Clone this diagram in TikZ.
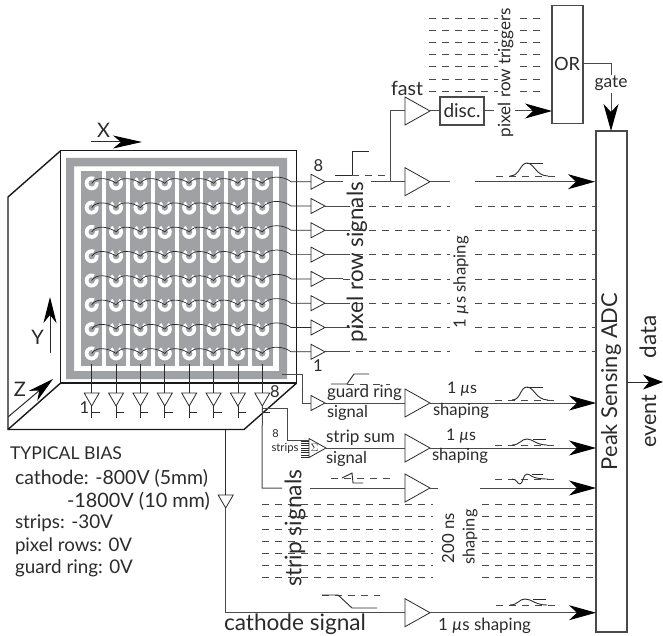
\documentclass[tikz,border=0pt]{standalone}
\usepackage{fontspec}
\setmainfont{Lato}
\usetikzlibrary{arrows.meta,shapes.geometric,calc}
\definecolor{plate}{HTML}{A0A1A4}
\definecolor{ink}{HTML}{2B2B2B}
\definecolor{wire}{HTML}{4A4A4A}
% set text in the size that makes it #1 bp wide
\newcommand\fitw[2]{%
  \setbox0=\hbox{\fontsize{10bp}{12bp}\selectfont #2}%
  \pgfmathsetmacro\fitsize{10*#1*1.00375/\the\wd0}%
  \fontsize{\fitsize bp}{\fitsize bp}\selectfont #2}
\tikzset{
 x=1bp,y=-1bp,
 every node/.style={text=ink,inner sep=0pt,outer sep=0pt},
 frame/.style={draw=black!90,line width=1.4bp,line join=miter},
 ampbase/.style={draw=ink,fill=white,line width=.8bp,isosceles triangle,isosceles triangle stretches,shape border rotate=0,anchor=lower side},
 ampbig/.style={ampbase,minimum width=28bp,minimum height=25bp},
 ampsmall/.style={ampbase,minimum width=15bp,minimum height=14bp},
 ampdown/.style={draw=ink,fill=white,line width=.8bp,isosceles triangle,isosceles triangle stretches,shape border rotate=270,anchor=lower side,minimum width=15bp,minimum height=13bp},
 lead/.style={draw=wire,line width=1bp},
 thin wire/.style={draw=ink,line width=.7bp},
 dashrow/.style={draw=wire,line width=.7bp,dash pattern=on 6.5bp off 6.5bp},
 pulse/.style={draw=ink,line width=.9bp},
 bigarrow/.style={lead,-{Stealth[length=27bp,width=15bp,inset=8bp,black]}},
 boxnode/.style={draw=wire,line width=1.1bp,fill=white},
 lab/.style={font=\fontsize{16.5bp}{18bp}\selectfont},
 labaxis/.style={font=\fontsize{20bp}{24bp}\selectfont},
 labtiny/.style={font=\fontsize{11bp}{12bp}\selectfont},
}
\begin{document}
\begin{tikzpicture}
\useasboundingbox (0,0) rectangle (663,636);
% guide coordinates
\coordinate (xA) at (343,0);
\coordinate (xB) at (371,0);
\coordinate (xC) at (450,0);
\coordinate (xD) at (475,0);
\coordinate (xE) at (595,0);
% detector box
\coordinate (ftl) at (60.7,150.7);
\coordinate (ftr) at (296.7,150.7);
\coordinate (fbr) at (296.7,383);
\coordinate (fbl) at (60.7,383);
\coordinate (btl) at (8,197);
\coordinate (bbl) at (8,429.5);
\coordinate (bbr) at (244,429.5);
\draw[frame] (ftl) -- (ftr) -- (fbr) -- (fbl) -- cycle;
\draw[frame] (ftl) -- (btl) -- (bbl) -- (bbr) -- (fbr);
\draw[frame] (fbl) -- (bbl);
% guard ring and strips
\fill[plate,even odd rule] (66,158) rectangle (287,379) (74,166.5) rectangle (279,371);
\foreach \i in {0,...,7}{
  \pgfmathsetmacro\sx{81.3+24.4*\i}
  \fill[plate] (\sx,170.7) rectangle ++(20.6,195.3);
}
% pixels
\foreach \j in {0,...,7}{
 \foreach \i in {0,...,7}{
  \pgfmathsetmacro\px{91.7+24.37*\i}
  \pgfmathsetmacro\py{183.3+24.3*\j}
  \coordinate (p\i-\j) at (\px,\py);
  \fill[white] (\px,\py) circle (7bp);
  \fill[plate] (\px,\py) circle (3.2bp);
  \ifnum\i=0
    \fill[plate] (\px,\py) -- ++(8,-2) -- ++(-4,-6) -- cycle;
  \else
    \fill[plate] (\px,\py) -- ++(-4.5,-8) -- ++(9,0) -- cycle;
  \fi
 }
}
% pixel-row amplifiers and wiring
\foreach \j in {0,...,7}{
  \pgfmathsetmacro\yr{181.7+24.3*\j}
  \node[ampsmall] (ra\j) at (311,\yr) {};
  \draw[thin wire] (p0-\j)
   foreach \i/\k in {0/1,1/2,2/3,3/4,4/5,5/6,6/7}{
     .. controls ($(p\i-\j)+(5,-7.5)$) and ($(p\k-\j)+(-7,-5)$) .. (p\k-\j) }
   .. controls ($(p7-\j)+(7,-9)$) and ($(p7-\j)+(22,-7)$) .. ($(ra\j.lower side)+(-20,0)$) -- (ra\j.lower side);
  \draw[lead] (ra\j.apex) -- (ra\j.apex -| xA);
}
\foreach \j in {1,...,7}{
  \draw[dashrow] (ra\j.apex -| xA) -- (ra\j.apex -| xC);
  \draw[dashrow] (ra\j.apex -| xD) -- (ra\j.apex -| xE);
}
% strip amplifiers
\foreach \i in {0,...,7}{
  \pgfmathsetmacro\tx{91.7+24.37*\i}
  \node[ampdown] (sa\i) at (\tx,393) {};
  \coordinate (st\i) at (\tx,364);
  \coordinate (se\i) at (\tx,418);
  \coordinate (tk\i) at (\tx,412.7);
  \coordinate (tr\i) at (\tx+8,412.7);
  \draw[thin wire] (st\i) -- (sa\i.lower side);
  \draw[thin wire] (sa\i.apex) -- (se\i);
  \draw[thin wire] (tk\i) -- (tr\i);
}
\node[lab] (one1) at (84.5,408) {1};
\node[lab] (eight1) at (275,392) {8};
\node[lab] (eight2) at (318.5,166) {8};
\node[lab] (one2) at (318,366) {1};
% fast branch and OR
\node[ampbig] (m0) at (405,181.7) {};
\draw[lead] (ra0.apex -| xB) -- (m0.lower side);
\draw[bigarrow] (m0.apex -| xD) -- (m0.apex -| xE);
\draw[lead] (m0.apex) -- (m0.apex -| xC);
\coordinate (fb) at (390,181.7);
\node[ampbig] (fa) at (405,111) {};
\draw[lead] (fb) |- (fa.lower side);
\node[boxnode,minimum width=44bp,minimum height=28bp] (disc) at (462,111) {\fitw{37}{disc.}};
\draw[lead] (fa.apex) -- (disc.west);
\node[boxnode,minimum width=31bp,minimum height=118.3bp] (orb) at (567.5,64.8) {};
\node (ortxt) at (567,64) {\fitw{26}{OR}};
\coordinate (dgap) at (494,111);
\coordinate (dgap2) at (515,111);
\draw[lead] (disc.east) -- (dgap);
\draw[bigarrow] (dgap2) -- (dgap2 -| orb.west);
\foreach \y in {18.3,30.3,42.7,54.7,66.7,79,91}{
  \coordinate (tl) at (429,\y);
  \coordinate (tr) at (546,\y);
  \draw[dashrow] (tl) -- (tr);
}
% ADC
\node[boxnode,minimum width=31bp,minimum height=501bp] (adc) at (611.5,381.5) {};
\node[rotate=90] (adctxt) at (611,381.5) {\fitw{177}{Peak Sensing ADC}};
\coordinate (g1) at (611,64);
\coordinate (g2) at (611,75);
\coordinate (g3) at (611,93);
\draw[lead] (orb.east |- g1) -- (g1) -- (g2);
\draw[bigarrow] (g3) -- (g3 |- adc.north);
\node (gate) at (611,83) {\fitw{33}{gate}};
% guard ring chain
\coordinate (gr0) at (282,374);
\coordinate (gr1) at (302,374);
\node[ampsmall] (ga) at (311,403) {};
\draw[lead] (gr0) -- (gr1) |- (ga.lower side);
\node[ampbig] (gb) at (405,403) {};
\draw[lead] (ga.apex) -- (gb.lower side);
\draw[bigarrow] (gb.apex) -- (gb.apex -| adc.west);
% strip sum chain
\coordinate (ss0) at (262.1,408);
\coordinate (ss1) at (287,408);
\coordinate (ss2) at (287,440);
\node[ampbase,minimum width=19bp,minimum height=17bp] (sa) at (309,448) {};
\node[labtiny] (sig) at (314.5,448) {$\Sigma$};
\draw[lead] (ss0) -- (ss1) -- (ss2) -- (ss2 -| sa.lower side);
\foreach \y in {441,443.3,445.6,447.9,450.2,452.5,454.8,457}{
  \coordinate (cb) at (301,\y);
  \draw[thin wire,line width=.6bp] (cb) -- (cb -| sa.lower side);
}
\node[ampbig] (sb) at (405,448) {};
\draw[lead] (sa.apex) -- (sb.lower side);
\draw[bigarrow] (sb.apex) -- (sb.apex -| adc.west);
\node[labtiny] (s8) at (275.5,434) {8};
\node (ssn) at (285,448) {\fitw{27}{strips}};
% strip signal chain
\node[ampbig] (sc) at (405,488) {};
\coordinate (sl0) at (262.1,488);
\coordinate (sl1) at (282,488);
\coordinate (sl2) at (310,488);
\draw[lead] (sa7.apex) -- (sl0) -- (sl1);
\draw[lead] (sl2) -- (sc.lower side);
\coordinate (sl3) at (438,488);
\coordinate (sl4) at (480,488);
\draw[lead] (sc.apex) -- (sl3);
\draw[bigarrow] (sl4) -- (sl4 -| adc.west);
\foreach \y in {504.7,516.7,529,541,553,565,577.7}{
  \coordinate (dl) at (262,\y);
  \coordinate (dm) at (433,\y);
  \coordinate (dn) at (482,\y);
  \draw[dashrow] (dl) -- (dm);
  \draw[dashrow] (dn) -- (dn -| adc.west);
}
% cathode chain
\coordinate (cc0) at (225.7,429.5);
\coordinate (cc1) at (225.7,612.7);
\node[ampdown] (ca) at (225.7,495) {};
\node[ampbig] (cb0) at (405,612.7) {};
\draw[thin wire] (cc0) -- (ca.lower side);
\draw[lead] (ca.apex) -- (cc1) -- (cb0.lower side);
\draw[bigarrow] (cb0.apex) -- (cb0.apex -| adc.west);
% event data arrow
\coordinate (ev) at (663,382);
\draw[thin wire,line width=.8bp,-{Stealth[length=20bp,width=15bp,inset=6bp,black]}] (adc.east |- ev) -- (ev);
% axes
\coordinate (xa0) at (91,142);
\coordinate (xa1) at (142,142);
\draw[draw=ink,line width=1bp,-{Stealth[length=29bp,width=13bp,inset=8bp,black]}] (xa0) -- (xa1);
\coordinate (ya0) at (50,353);
\coordinate (ya1) at (50,297);
\draw[draw=ink,line width=1bp,-{Stealth[length=26bp,width=13bp,inset=8bp,black]}] (ya0) -- (ya1);
\coordinate (za0) at (8,417);
\coordinate (za1) at (53,379);
\draw[draw=ink,line width=1bp,-{Stealth[length=26bp,width=13bp,inset=8bp,black]}] (za0) -- (za1);
\node[labaxis] (xl) at (103.5,130) {X};
\node[labaxis] (yl) at (37.5,337) {Y};
\node[labaxis] (zl) at (20,389) {Z};
% pulses
\draw[pulse] (335,175) -- (352,175) -- (352,151) -- (369,151);
\draw[dashrow] (352,175) -- (388,175);
\draw[pulse] (331,384) -- (347,384) -- (354,374) -- (369,374);
\draw[dashrow] (347,384) -- (390,384);
\draw[dashrow] (331,478) -- (390,478);
\draw[pulse] (342,478) -- (352,473) -- (353,483) -- (363,483);
\draw[dashrow] (322,595) -- (380,595);
\draw[pulse] (322,595) -- (338,595) -- (352,608) -- (377,608);
\draw[dashrow] (496,176) -- (560,176);
\draw[pulse] (510,176) .. controls (520,176) and (520,163) .. (527,163) .. controls (534,163) and (536,176) .. (548,176);
\draw[pulse] (527,163) -- (543,163);
\draw[dashrow] (495,400) -- (560,400);
\draw[pulse] (512,400) .. controls (521,400) and (520,387) .. (527,387) .. controls (534,387) and (536,400) .. (548,400);
\draw[pulse] (527,387) -- (543,387);
\draw[dashrow] (495,445) -- (560,445);
\draw[pulse] (512,445) .. controls (520,445) and (521,439) .. (527,439) .. controls (533,439) and (536,445) .. (547,445);
\draw[pulse] (533,439) -- (546,439);
\draw[dashrow] (495,479) -- (560,479);
\draw[pulse] (512,479) .. controls (517,479) and (517,484) .. (520,484) .. controls (523,484) and (523,474) .. (527,474) .. controls (531,474) and (530,479) .. (548,479);
\draw[pulse] (532,474) -- (543,474);
\draw[dashrow] (496,605) -- (560,605);
\draw[pulse] (510,605) .. controls (518,605) and (519,599) .. (525,599) .. controls (532,599) and (535,605) .. (547,605);
\draw[pulse] (533,599) -- (546,599);
% labels
\node (t1) at (407,88) {\fitw{32}{fast}};
\node[rotate=90,fill=white] (t2) at (505.7,72.5) {\fitw{129}{pixel row triggers}};
\node[rotate=90] (t3) at (357,262) {\fitw{160}{pixel row signals}};
\node[rotate=90] (t4) at (461,282) {\fitw{92}{1 \textit{µ}s shaping}};
\node[anchor=west] (t5) at (327,393) {\fitw{75}{guard ring}};
\node[anchor=west] (t6) at (327,413) {\fitw{41}{signal}};
\node (t7) at (462,389) {\fitw{30}{1 \textit{µ}s}};
\node (t8) at (461,411) {\fitw{56}{shaping}};
\node[anchor=west] (t9) at (326,438) {\fitw{69}{strip sum}};
\node[anchor=west] (t10) at (326,459) {\fitw{41}{signal}};
\node (t11) at (461,436) {\fitw{30}{1 \textit{µ}s}};
\node (t12) at (460,456) {\fitw{56}{shaping}};
\node[rotate=90] (t13) at (295,528) {\fitw{117}{strip signals}};
\node[rotate=90,fill=white] (t14) at (448,538) {\fitw{50}{200 ns}};
\node[rotate=90,fill=white] (t15) at (470,537) {\fitw{55}{shaping}};
\node[anchor=west] (t16) at (224,624) {\fitw{142}{cathode signal}};
\node[anchor=west] (t17) at (438,626) {\fitw{93}{1 \textit{µ}s shaping}};
\node[rotate=90] (t18) at (648,337) {\fitw{43}{data}};
\node[rotate=90] (t19) at (649,421) {\fitw{53}{event}};
\node[anchor=west] (b1) at (10,453) {\fitw{112}{TYPICAL BIAS}};
\node[anchor=west] (b2) at (15,478) {\fitw{193}{cathode: -800V (5mm)}};
\node[anchor=west] (b3) at (67,501) {\fitw{143}{-1800V (10 mm)}};
\node[anchor=west] (b4) at (15,523) {\fitw{98}{strips: -30V}};
\node[anchor=west] (b5) at (15,546) {\fitw{117}{pixel rows: 0V}};
\node[anchor=west] (b6) at (15,568) {\fitw{118}{guard ring: 0V}};
\end{tikzpicture}
\end{document}
